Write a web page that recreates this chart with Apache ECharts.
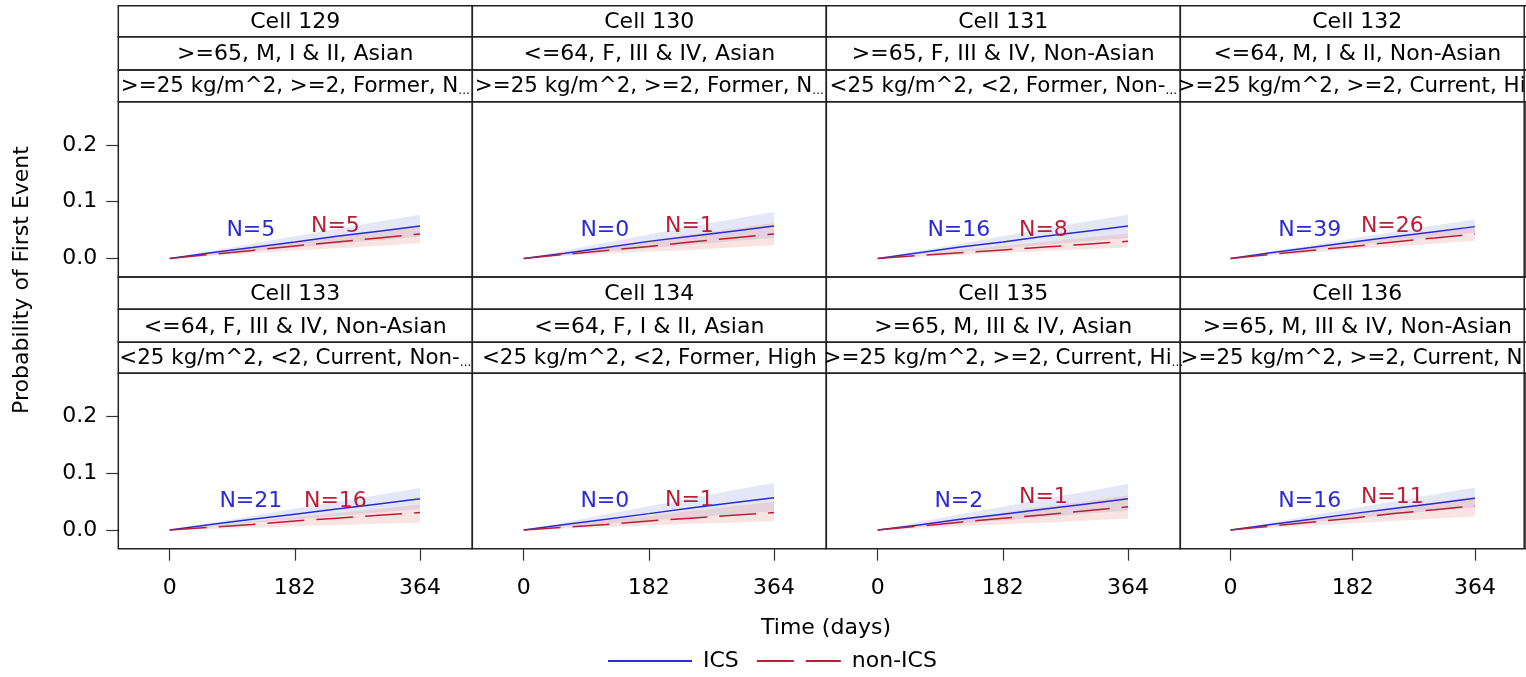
<!DOCTYPE html>
<html>
<head>
<meta charset="utf-8">
<script src="https://cdn.jsdelivr.net/npm/echarts@6/dist/echarts.min.js"></script>
<style>
  html, body { margin: 0; padding: 0; background: #ffffff; overflow: hidden; }
  #chart { width: 1526px; height: 677px; }
</style>
</head>
<body>
<div id="chart"></div>
<script>
// ---- data -------------------------------------------------------------
const timePoints = [0, 60, 120, 182, 243, 304, 364];
const xTicks = [0, 182, 364];
const yTicks = [0, 0.1, 0.2];

const cellNames = ['Cell 129', 'Cell 130', 'Cell 131', 'Cell 132',
                   'Cell 133', 'Cell 134', 'Cell 135', 'Cell 136'];
const stratumA = ['>=65, M, I & II, Asian', '<=64, F, III & IV, Asian',
                  '>=65, F, III & IV, Non-Asian', '<=64, M, I & II, Non-Asian',
                  '<=64, F, III & IV, Non-Asian', '<=64, F, I & II, Asian',
                  '>=65, M, III & IV, Asian', '>=65, M, III & IV, Non-Asian'];
const stratumB = ['>=25 kg/m^2, >=2, Former, N\u2026', '>=25 kg/m^2, >=2, Former, N\u2026',
                  '<25 kg/m^2, <2, Former, Non-\u2026', '>=25 kg/m^2, >=2, Current, Hi\u2026',
                  '<25 kg/m^2, <2, Current, Non-\u2026', '<25 kg/m^2, <2, Former, High',
                  '>=25 kg/m^2, >=2, Current, Hi\u2026', '>=25 kg/m^2, >=2, Current, N\u2026'];

const icsN    = [5, 0, 16, 39, 21, 0, 2, 16];
const nonIcsN = [5, 1, 8, 26, 16, 1, 1, 11];

// cumulative probability of first event, ICS arm
const icsEst = [
  [0, 0.010, 0.019, 0.029, 0.039, 0.048, 0.057],
  [0, 0.009, 0.019, 0.030, 0.039, 0.048, 0.057],
  [0, 0.010, 0.020, 0.029, 0.039, 0.048, 0.057],
  [0, 0.010, 0.019, 0.029, 0.038, 0.047, 0.056],
  [0, 0.010, 0.019, 0.028, 0.037, 0.046, 0.055],
  [0, 0.010, 0.019, 0.029, 0.039, 0.048, 0.057],
  [0, 0.009, 0.019, 0.028, 0.037, 0.046, 0.055],
  [0, 0.010, 0.019, 0.029, 0.038, 0.047, 0.056]
];
const icsLower = [
  [0, 0.006, 0.013, 0.019, 0.026, 0.032, 0.038],
  [0, 0.006, 0.012, 0.018, 0.024, 0.030, 0.036],
  [0, 0.006, 0.012, 0.018, 0.024, 0.030, 0.036],
  [0, 0.008, 0.015, 0.023, 0.031, 0.038, 0.045],
  [0, 0.006, 0.013, 0.019, 0.025, 0.031, 0.037],
  [0, 0.006, 0.011, 0.017, 0.022, 0.028, 0.033],
  [0, 0.006, 0.012, 0.017, 0.023, 0.029, 0.034],
  [0, 0.007, 0.014, 0.020, 0.027, 0.034, 0.040]
];
const icsUpper = [
  [0, 0.013, 0.026, 0.039, 0.052, 0.065, 0.077],
  [0, 0.014, 0.028, 0.042, 0.056, 0.069, 0.082],
  [0, 0.013, 0.026, 0.039, 0.052, 0.065, 0.077],
  [0, 0.012, 0.023, 0.035, 0.047, 0.058, 0.069],
  [0, 0.013, 0.025, 0.038, 0.050, 0.062, 0.074],
  [0, 0.014, 0.028, 0.042, 0.056, 0.070, 0.083],
  [0, 0.014, 0.028, 0.041, 0.055, 0.068, 0.081],
  [0, 0.013, 0.026, 0.038, 0.051, 0.063, 0.075]
];

// cumulative probability of first event, non-ICS arm
const nonIcsEst = [
  [0, 0.007, 0.014, 0.022, 0.029, 0.036, 0.043],
  [0, 0.007, 0.014, 0.021, 0.029, 0.036, 0.043],
  [0, 0.005, 0.010, 0.015, 0.020, 0.025, 0.030],
  [0, 0.007, 0.014, 0.021, 0.029, 0.036, 0.043],
  [0, 0.005, 0.010, 0.016, 0.021, 0.026, 0.031],
  [0, 0.005, 0.010, 0.016, 0.021, 0.026, 0.031],
  [0, 0.007, 0.014, 0.021, 0.027, 0.034, 0.041],
  [0, 0.007, 0.014, 0.021, 0.029, 0.036, 0.043]
];
const nonIcsLower = [
  [0, 0.004, 0.009, 0.014, 0.018, 0.022, 0.027],
  [0, 0.004, 0.008, 0.012, 0.015, 0.019, 0.023],
  [0, 0.003, 0.006, 0.010, 0.013, 0.016, 0.019],
  [0, 0.005, 0.010, 0.016, 0.021, 0.026, 0.031],
  [0, 0.002, 0.004, 0.007, 0.009, 0.011, 0.013],
  [0, 0.003, 0.005, 0.008, 0.011, 0.013, 0.016],
  [0, 0.003, 0.007, 0.010, 0.013, 0.017, 0.020],
  [0, 0.004, 0.008, 0.012, 0.016, 0.020, 0.024]
];
const nonIcsUpper = [
  [0, 0.009, 0.019, 0.029, 0.039, 0.048, 0.058],
  [0, 0.010, 0.021, 0.032, 0.042, 0.052, 0.063],
  [0, 0.007, 0.015, 0.022, 0.029, 0.037, 0.044],
  [0, 0.009, 0.018, 0.028, 0.037, 0.046, 0.055],
  [0, 0.007, 0.015, 0.023, 0.030, 0.037, 0.045],
  [0, 0.008, 0.017, 0.025, 0.034, 0.042, 0.050],
  [0, 0.010, 0.020, 0.031, 0.041, 0.051, 0.061],
  [0, 0.009, 0.019, 0.030, 0.040, 0.049, 0.059]
];

// ---- layout & styles --------------------------------------------------
const FONT = 'DejaVu Sans';
const FS = 22;
const ICS_COLOR = '#2a2ad6';
const NON_COLOR = '#b81e36';
const FRAME = '#222222';

const colLeft = 118.3, colWidth = 354;
const rows = [
  { strips: [5.7, 36.7, 70, 101.7], plotTop: 101.7, plotBottom: 277 },
  { strips: [277, 309.3, 342.3, 373.3], plotTop: 373.3, plotBottom: 548.7 }
];
const xMin = -74.8, xMax = 440.1;
const yMin = -0.0328, yMax = 0.2762;

// where the N= annotations sit inside each panel (day, probability)
const icsLabelAt = [118, 0.050];
const nonLabelDay = 241;
const nonLabelY = [0.057, 0.057, 0.050, 0.057, 0.050, 0.052, 0.058, 0.058];

const pairs = (ys) => timePoints.map((t, k) => [t, ys[k]]);

const grids = [], xAxes = [], yAxes = [], series = [], graphics = [];

// a confidence band drawn as one polygon through the panel's own scales
function bandSeries(i, lo, hi, fill) {
  return {
    type: 'custom', xAxisIndex: i, yAxisIndex: i, silent: true, z: 1,
    clip: true,
    data: [[timePoints[0], lo[0]]],
    renderItem: (params, api) => {
      const pts = [];
      for (let k = 0; k < timePoints.length; k++) pts.push(api.coord([timePoints[k], hi[k]]));
      for (let k = timePoints.length - 1; k >= 0; k--) pts.push(api.coord([timePoints[k], lo[k]]));
      return { type: 'polygon', shape: { points: pts }, style: { fill: fill, stroke: null } };
    }
  };
}

cellNames.forEach((name, i) => {
  const r = Math.floor(i / 4), c = i % 4;
  const row = rows[r];
  const left = colLeft + c * colWidth;
  const isLeft = c === 0, isBottom = r === 1;

  grids.push({
    left: left, top: row.plotTop, width: colWidth,
    height: row.plotBottom - row.plotTop,
    show: true, borderColor: FRAME, borderWidth: 1.5, backgroundColor: 'transparent'
  });

  xAxes.push({
    gridIndex: i, type: 'value', min: xMin, max: xMax, position: 'bottom',
    axisLine: { show: false, onZero: false },
    splitLine: { show: false },
    axisTick: {
      show: isBottom, customValues: xTicks, length: 12,
      lineStyle: { color: '#333', width: 1.2 }
    },
    axisLabel: {
      show: isBottom, customValues: xTicks, margin: 29,
      fontFamily: FONT, fontSize: FS, color: '#000'
    }
  });

  yAxes.push({
    gridIndex: i, type: 'value', min: yMin, max: yMax, position: 'left',
    axisLine: { show: false, onZero: false },
    splitLine: { show: false },
    axisTick: {
      show: isLeft, customValues: yTicks, length: 12,
      lineStyle: { color: '#333', width: 1.2 }
    },
    axisLabel: {
      show: isLeft, customValues: yTicks, margin: 21,
      fontFamily: FONT, fontSize: FS, color: '#000',
      formatter: (v) => v.toFixed(1)
    }
  });

  series.push(bandSeries(i, icsLower[i], icsUpper[i], 'rgba(120,140,210,0.2)'));
  series.push(bandSeries(i, nonIcsLower[i], nonIcsUpper[i], 'rgba(228,120,105,0.2)'));

  series.push({
    type: 'line', name: 'ICS', xAxisIndex: i, yAxisIndex: i,
    data: pairs(icsEst[i]), symbol: 'none', silent: true,
    lineStyle: { color: ICS_COLOR, width: 1.5 }, itemStyle: { color: ICS_COLOR }, z: 3
  });
  series.push({
    type: 'line', name: 'non-ICS', xAxisIndex: i, yAxisIndex: i,
    data: pairs(nonIcsEst[i]), symbol: 'none', silent: true,
    lineStyle: { color: NON_COLOR, width: 1.5, type: [37, 12] },
    itemStyle: { color: NON_COLOR }, z: 3
  });

  // N= annotations
  series.push({
    type: 'scatter', name: 'counts', xAxisIndex: i, yAxisIndex: i,
    symbolSize: 0, silent: true, z: 5,
    itemStyle: { opacity: 1 },
    data: [
      { value: icsLabelAt, label: { formatter: 'N=' + icsN[i], color: ICS_COLOR } },
      { value: [nonLabelDay, nonLabelY[i]], label: { formatter: 'N=' + nonIcsN[i], color: NON_COLOR } }
    ],
    label: { show: true, position: 'inside', fontFamily: FONT, fontSize: FS, opacity: 1 }
  });

  // header strips
  const texts = [name, stratumA[i], stratumB[i]];
  for (let s = 0; s < 3; s++) {
    const y0 = row.strips[s], y1 = row.strips[s + 1];
    graphics.push({
      type: 'rect', silent: true,
      shape: { x: left, y: y0, width: colWidth, height: y1 - y0 },
      style: { fill: 'none', stroke: FRAME, lineWidth: 1.5 }, z: 10
    });
    let t = texts[s];
    if (t.endsWith('\u2026')) t = t.slice(0, -1) + '{e|...}';
    const fs = s === 2 ? 21.4 : FS;
    graphics.push({
      type: 'text', silent: true, z: 11,
      x: left + colWidth / 2, y: (y0 + y1) / 2 + 1,
      style: {
        text: t, fill: '#000', font: fs + 'px "' + FONT + '"',
        fontFamily: FONT, fontSize: fs,
        align: 'center', verticalAlign: 'middle',
        textAlign: 'center', textVerticalAlign: 'middle',
        rich: { e: { fontSize: 12, fontFamily: FONT, fill: '#000', verticalAlign: 'bottom', padding: [7, 0, 0, 0] } }
      }
    });
  }
});

// right edge of the panel block
graphics.push({
  type: 'line', silent: true, z: 12,
  shape: { x1: 1524.2, y1: 5.7, x2: 1524.2, y2: 548.7 },
  style: { stroke: FRAME, lineWidth: 1.5 }
});

// axis titles
graphics.push({
  type: 'text', silent: true, x: 22, y: 280, rotation: Math.PI / 2,
  style: {
    text: 'Probability of First Event', fill: '#000',
    font: FS + 'px "' + FONT + '"', align: 'center', verticalAlign: 'middle',
    textAlign: 'center', textVerticalAlign: 'middle'
  }
});
graphics.push({
  type: 'text', silent: true, x: 826, y: 628,
  style: {
    text: 'Time (days)', fill: '#000',
    font: FS + 'px "' + FONT + '"', align: 'center', verticalAlign: 'middle',
    textAlign: 'center', textVerticalAlign: 'middle'
  }
});

const chart = echarts.init(document.getElementById('chart'), null, { renderer: 'canvas' });
chart.setOption({
  animation: false,
  backgroundColor: '#ffffff',
  grid: grids,
  xAxis: xAxes,
  yAxis: yAxes,
  series: series,
  legend: {
    data: ['ICS', 'non-ICS'],
    left: 607, top: 650, padding: 0,
    itemWidth: 84, itemHeight: 22, itemGap: 17,
    selectedMode: false,
    itemStyle: { opacity: 0 },
    textStyle: { fontFamily: FONT, fontSize: FS, color: '#000', padding: [0, 0, 0, 6] }
  },
  graphic: { elements: graphics }
});
</script>
</body>
</html>
